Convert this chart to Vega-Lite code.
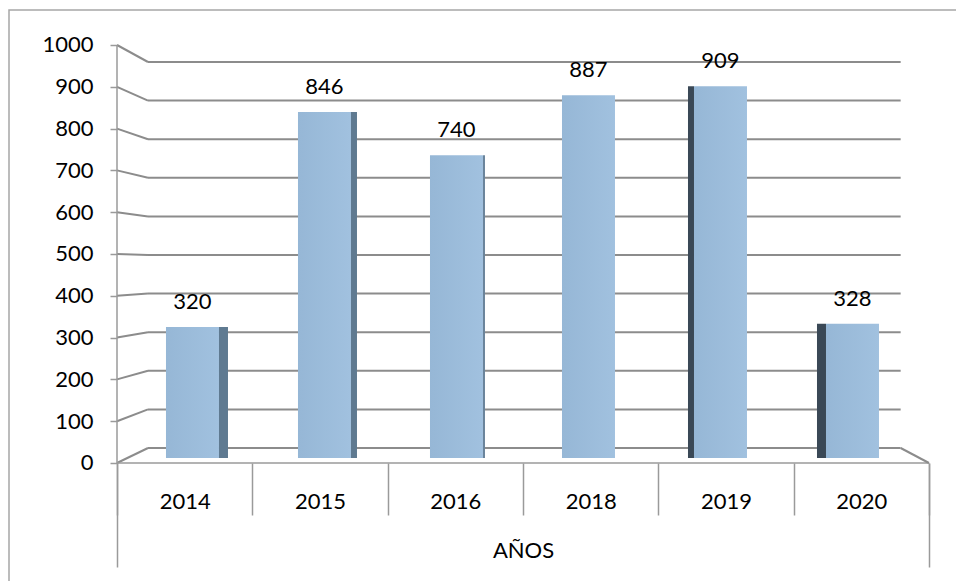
{
  "$schema": "https://vega.github.io/schema/vega-lite/v6.json",
  "width": 950,
  "height": 575,
  "autosize": {"type": "none"},
  "padding": {"left": 9, "top": 10, "right": 0, "bottom": 0},
  "config": {"view": {"stroke": "#A6A6A6", "strokeWidth": 1.5}, "font": "Lato"},
  "datasets": {
    "main": [
      {"year": "2014", "value": 320},
      {"year": "2015", "value": 846},
      {"year": "2016", "value": 740},
      {"year": "2018", "value": 887},
      {"year": "2019", "value": 909},
      {"year": "2020", "value": 328}
    ],
    "ticks": [
      {"v": 0}, {"v": 100}, {"v": 200}, {"v": 300}, {"v": 400}, {"v": 500},
      {"v": 600}, {"v": 700}, {"v": 800}, {"v": 900}, {"v": 1000}
    ],
    "eje": [{"eje": "AÑOS"}],
    "one": [{"k": 1}]
  },
  "data": {"name": "main"},
  "resolve": {"scale": {"x": "independent", "y": "independent"}, "axis": {"x": "independent", "y": "independent"}},
  "layer": [
    {
      "data": {"name": "ticks"},
      "mark": {"type": "rule", "color": "#8C8C8C", "strokeWidth": 2},
      "encoding": {
        "y": {"field": "v", "type": "quantitative", "scale": {"domain": [-354.92, 1134.72], "nice": false, "zero": false}, "axis": null},
        "x": {"datum": "2014", "type": "nominal", "bandPosition": 0.229,
              "scale": {"type": "band", "domain": ["2014", "2015", "2016", "2018", "2019", "2020"], "paddingInner": 0, "paddingOuter": 0.5099, "align": 0.7826},
              "axis": {"orient": "bottom", "offset": -122, "domain": false, "tickBand": "extent", "tickSize": 52, "tickColor": "#9A9A9A", "tickWidth": 1.5, "labelFont": "Lato", "labelFontSize": 22, "labelColor": "#000000", "labelBaseline": "alphabetic", "labelPadding": -7, "labelAngle": 0, "title": null, "grid": false}},
        "x2": {"datum": "2020", "bandPosition": 0.7906}
      }
    },
    {
      "data": {"name": "ticks"},
      "mark": {"type": "rule", "color": "#8C8C8C", "strokeWidth": 2, "y2Offset": {"expr": "-15 + 0.032 * datum.v"}},
      "encoding": {
        "y": {"field": "v", "type": "quantitative", "scale": {"domain": [-291.87, 1083.73], "nice": false, "zero": false}, "axis": null},
        "y2": {"field": "v"},
        "x": {"datum": "2014", "type": "nominal", "bandPosition": 0,
              "scale": {"type": "band", "domain": ["2014", "2015", "2016", "2018", "2019", "2020"], "paddingInner": 0, "paddingOuter": 0.5099, "align": 0.7826}, "axis": null},
        "x2": {"datum": "2014", "bandPosition": 0.229}
      }
    },
    {
      "data": {"name": "one"},
      "mark": {"type": "rule", "color": "#9A9A9A", "strokeWidth": 1.5},
      "encoding": {
        "x": {"datum": "2014", "type": "nominal", "bandPosition": 0,
              "scale": {"type": "band", "domain": ["2014", "2015", "2016", "2018", "2019", "2020"], "paddingInner": 0, "paddingOuter": 0.5099, "align": 0.7826}, "axis": null},
        "y": {"datum": 0, "type": "quantitative", "scale": {"domain": [-291.87, 1083.73], "nice": false, "zero": false},
              "axis": {"orient": "left", "offset": -108, "values": [0, 100, 200, 300, 400, 500, 600, 700, 800, 900, 1000], "format": "d", "domain": false, "grid": false, "tickSize": 7, "tickColor": "#9A9A9A", "tickWidth": 1.5, "labelFont": "Lato", "labelFontSize": 22, "labelColor": "#000000", "labelPadding": 17, "title": null}},
        "y2": {"datum": 1000}
      }
    },
    {
      "data": {"name": "eje"},
      "mark": {"type": "rect", "filled": false, "stroke": "#9A9A9A", "strokeWidth": 1.5},
      "encoding": {
        "x": {"field": "eje", "type": "nominal",
              "scale": {"type": "band", "domain": ["AÑOS"], "paddingInner": 0, "paddingOuter": 0.08498, "align": 0.7826},
              "axis": {"orient": "bottom", "offset": -122, "domain": false, "tickBand": "extent", "tickSize": 104, "tickColor": "#9A9A9A", "tickWidth": 1.5, "labelFont": "Lato", "labelFontSize": 22, "labelColor": "#000000", "labelBaseline": "alphabetic", "labelPadding": -10, "labelAngle": 0, "title": null, "grid": false}},
        "y": {"datum": 0, "type": "quantitative", "scale": {"domain": [-291.87, 1083.73], "nice": false, "zero": false}, "axis": null},
        "y2": {"datum": 0}
      }
    },
    {
      "data": {"name": "one"},
      "mark": {"type": "rule", "color": "#8C8C8C", "strokeWidth": 2, "y2Offset": -15},
      "encoding": {
        "x": {"datum": "2020", "type": "nominal", "bandPosition": 1,
              "scale": {"type": "band", "domain": ["2014", "2015", "2016", "2018", "2019", "2020"], "paddingInner": 0, "paddingOuter": 0.5099, "align": 0.7826}, "axis": null},
        "x2": {"datum": "2020", "bandPosition": 0.7906},
        "y": {"datum": 0, "type": "quantitative", "scale": {"domain": [-291.87, 1083.73], "nice": false, "zero": false}, "axis": null},
        "y2": {"datum": 0}
      }
    },
    {
      "layer": [
        {
          "mark": {"type": "bar", "color": {"gradient": "linear", "x1": 0, "x2": 1, "y1": 0, "y2": 0, "stops": [{"offset": 0, "color": "#96B7D6"}, {"offset": 1, "color": "#A1C1DF"}]}},
          "encoding": {
            "x": {"field": "year", "type": "nominal"},
            "y": {"field": "value", "type": "quantitative"}
          }
        },
        {
          "transform": [{"filter": "datum.year == '2014'"}],
          "mark": {"type": "bar", "color": "#5F7A91", "width": 9, "xOffset": 31},
          "encoding": {"x": {"field": "year", "type": "nominal"}, "y": {"field": "value", "type": "quantitative"}}
        },
        {
          "transform": [{"filter": "datum.year == '2015'"}],
          "mark": {"type": "bar", "color": "#5F7A91", "width": 6, "xOffset": 29.5},
          "encoding": {"x": {"field": "year", "type": "nominal"}, "y": {"field": "value", "type": "quantitative"}}
        },
        {
          "transform": [{"filter": "datum.year == '2016'"}],
          "mark": {"type": "bar", "color": "#6A849B", "width": 2, "xOffset": 27.5},
          "encoding": {"x": {"field": "year", "type": "nominal"}, "y": {"field": "value", "type": "quantitative"}}
        },
        {
          "transform": [{"filter": "datum.year == '2019'"}],
          "mark": {"type": "bar", "color": "#3A4856", "width": 6, "xOffset": -29.5},
          "encoding": {"x": {"field": "year", "type": "nominal"}, "y": {"field": "value", "type": "quantitative"}}
        },
        {
          "transform": [{"filter": "datum.year == '2020'"}],
          "mark": {"type": "bar", "color": "#3A4856", "width": 9, "xOffset": -31},
          "encoding": {"x": {"field": "year", "type": "nominal"}, "y": {"field": "value", "type": "quantitative"}}
        },
        {
          "mark": {"type": "text", "font": "Lato", "fontSize": 22, "color": "#000000", "baseline": "alphabetic", "dy": -18},
          "encoding": {
            "x": {"field": "year", "type": "nominal"},
            "y": {"field": "value", "type": "quantitative"},
            "text": {"field": "value", "type": "quantitative"}
          }
        }
      ],
      "encoding": {
        "x": {"field": "year", "type": "nominal",
              "scale": {"type": "band", "domain": ["2014", "2015", "2016", "2018", "2019", "2020"], "paddingInner": 0.5985, "paddingOuter": 0.8977, "align": 0.6624}, "axis": null},
        "y": {"field": "value", "type": "quantitative", "scale": {"domain": [-310.52, 1095.35], "nice": false, "zero": false}, "axis": null}
      }
    }
  ]
}
